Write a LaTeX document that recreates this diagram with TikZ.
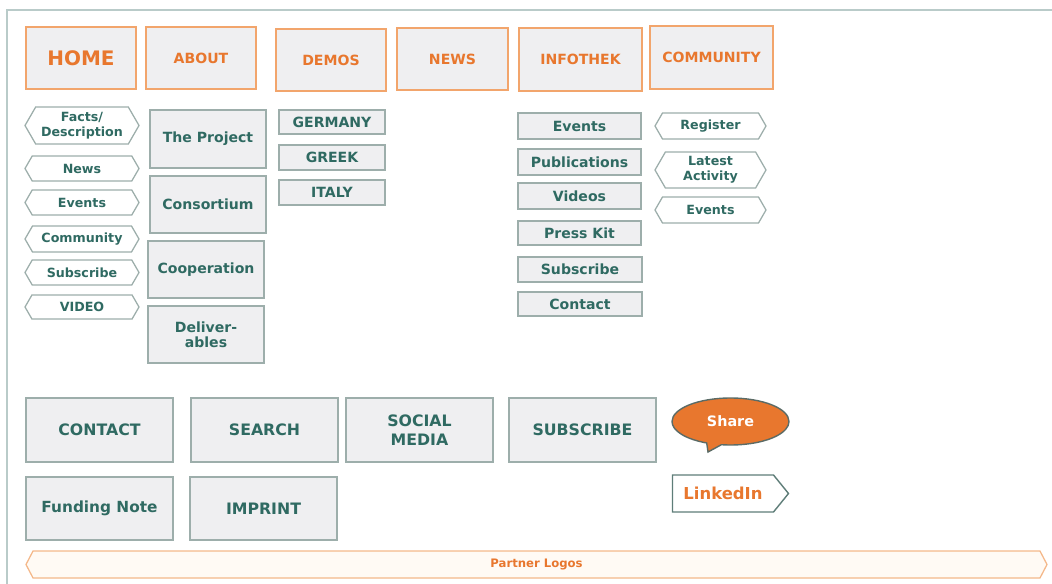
\documentclass[tikz,border=0pt]{standalone}
\usepackage{fontspec}
\setmainfont{DejaVu Sans}
\usetikzlibrary{shapes.symbols,shapes.callouts}

\definecolor{navorange}{HTML}{E8772E}
\definecolor{navline}{HTML}{F2A56C}
\definecolor{boxfill}{HTML}{EFEFF1}
\definecolor{boxline}{HTML}{9DAEAB}
\definecolor{tealtext}{HTML}{2F6A62}
\definecolor{framegray}{HTML}{B9CBC9}
\definecolor{logofill}{HTML}{FFFAF4}
\definecolor{logoline}{HTML}{F4B88A}
\definecolor{bubbleline}{HTML}{5B6B66}
\definecolor{linkline}{HTML}{5E7D78}

% one pixel of the wireframe
\def\px{0.025cm}

\tikzset{
  box/.style={draw=boxline, fill=boxfill, line width=0.9pt, inner sep=0pt,
    align=center, text=tealtext},
  navbox/.style={box, draw=navline, text=navorange,
    font=\fontsize{10}{12}\selectfont\bfseries},
  subbox/.style={box, font=\fontsize{10}{10.7}\selectfont\bfseries},
  footbox/.style={box, minimum width=147*\px, minimum height=64*\px,
    font=\fontsize{11.2}{13.5}\selectfont\bfseries},
  tabbox/.style={box, fill=white, shape=signal, signal to=west and east,
    signal pointer angle=120, minimum width=114*\px,
    font=\fontsize{9}{11}\selectfont\bfseries},
}

\begin{document}
\begin{tikzpicture}[x=0.025cm, y=-0.025cm]
\useasboundingbox (0,0) rectangle (1052,584);

% page frame
\draw[framegray, line width=1.4pt] (7,584) -- (7,10) -- (1052,10);

% main menu
\node[navbox, minimum width=110*\px, minimum height=62*\px,
  font=\fontsize{14.2}{16}\selectfont\bfseries] (home) at (81,58) {HOME};
\node[navbox, minimum width=110*\px, minimum height=62*\px] (about) at (201,58) {ABOUT};
\node[navbox, minimum width=110*\px, minimum height=62*\px] (demos) at (331,60) {DEMOS};
\node[navbox, minimum width=111*\px, minimum height=62*\px] (news) at (452.5,59) {NEWS};
\node[navbox, minimum width=123*\px, minimum height=63*\px] (infothek) at (580.5,59.5) {INFOTHEK};
\node[navbox, minimum width=123*\px, minimum height=63*\px] (community) at (711.5,57.5) {COMMUNITY};

% home tabs
\node[tabbox, minimum height=37*\px] (facts) at (82,125.5) {Facts/\\Description};
\node[tabbox, minimum height=25*\px] (hnews) at (82,168.5) {News};
\node[tabbox, minimum height=25*\px] (hevents) at (82,202.5) {Events};
\node[tabbox, minimum height=26*\px] (hcommunity) at (82,239) {Community};
\node[tabbox, minimum height=25*\px] (hsubscribe) at (82,272.5) {Subscribe};
\node[tabbox, minimum height=24*\px] (hvideo) at (82,307) {VIDEO};

% about pages
\node[subbox, minimum width=116*\px, minimum height=58*\px] (project) at (208,139) {The Project};
\node[subbox, minimum width=116*\px, minimum height=57*\px] (consortium) at (208,204.5) {Consortium};
\node[subbox, minimum width=116*\px, minimum height=57*\px] (cooperation) at (206,269.5) {Cooperation};
\node[subbox, minimum width=116*\px, minimum height=57*\px] (deliverables) at (206,334.5) {Deliver-\\ables};

% demo sites
\node[subbox, minimum width=106*\px, minimum height=24*\px] (germany) at (332,122) {GERMANY};
\node[subbox, minimum width=106*\px, minimum height=25*\px] (greek) at (332,157.5) {GREEK};
\node[subbox, minimum width=106*\px, minimum height=25*\px] (italy) at (332,192.5) {ITALY};

% infothek pages
\node[subbox, minimum width=123*\px, minimum height=26*\px] (ievents) at (579.5,126) {Events};
\node[subbox, minimum width=123*\px, minimum height=26*\px] (publications) at (579.5,162) {Publications};
\node[subbox, minimum width=123*\px, minimum height=26*\px] (videos) at (579.5,196) {Videos};
\node[subbox, minimum width=123*\px, minimum height=24*\px] (presskit) at (579.5,233) {Press Kit};
\node[subbox, minimum width=124*\px, minimum height=25*\px] (isubscribe) at (580,269.5) {Subscribe};
\node[subbox, minimum width=124*\px, minimum height=24*\px] (icontact) at (580,304) {Contact};

% community tabs
\node[tabbox, minimum width=111*\px, minimum height=26*\px] (register) at (710.5,126) {Register};
\node[tabbox, minimum width=111*\px, minimum height=36*\px] (latest) at (710.5,170) {Latest\\Activity};
\node[tabbox, minimum width=111*\px, minimum height=26*\px] (cevents) at (710.5,210) {Events};

% footer
\node[footbox] (contact) at (99.5,430) {CONTACT};
\node[footbox] (search) at (264.5,430) {SEARCH};
\node[footbox] (social) at (419.5,430) {SOCIAL\\MEDIA};
\node[footbox] (subscribe) at (582.5,430) {SUBSCRIBE};
\node[footbox, minimum height=63*\px, font=\fontsize{10.9}{13}\selectfont\bfseries] (funding) at (99.5,508.5) {Funding Note};
\node[footbox, minimum height=63*\px] (imprint) at (263.5,508.5) {IMPRINT};

\node[ellipse callout, draw=bubbleline, fill=navorange, line width=1pt, text=white,
  minimum width=117*\px, minimum height=47*\px, inner sep=0pt,
  callout absolute pointer={(708,452)},
  font=\fontsize{10.2}{12}\selectfont\bfseries] (share) at (730.5,421.5) {Share};
\node[signal, signal to=east, signal pointer angle=102, draw=linkline, fill=white,
  line width=1pt, text=navorange, minimum width=116*\px, minimum height=37*\px,
  inner sep=0pt, font=\fontsize{11.7}{14}\selectfont\bfseries] (linkedin) at (723,493.5) {LinkedIn};

\node[tabbox, draw=logoline, fill=logofill, text=navorange, signal pointer angle=125,
  minimum width=1021*\px, minimum height=27*\px,
  font=\fontsize{8.3}{10}\selectfont\bfseries] (partners) at (536.5,564.5) {Partner Logos};
\end{tikzpicture}
\end{document}
